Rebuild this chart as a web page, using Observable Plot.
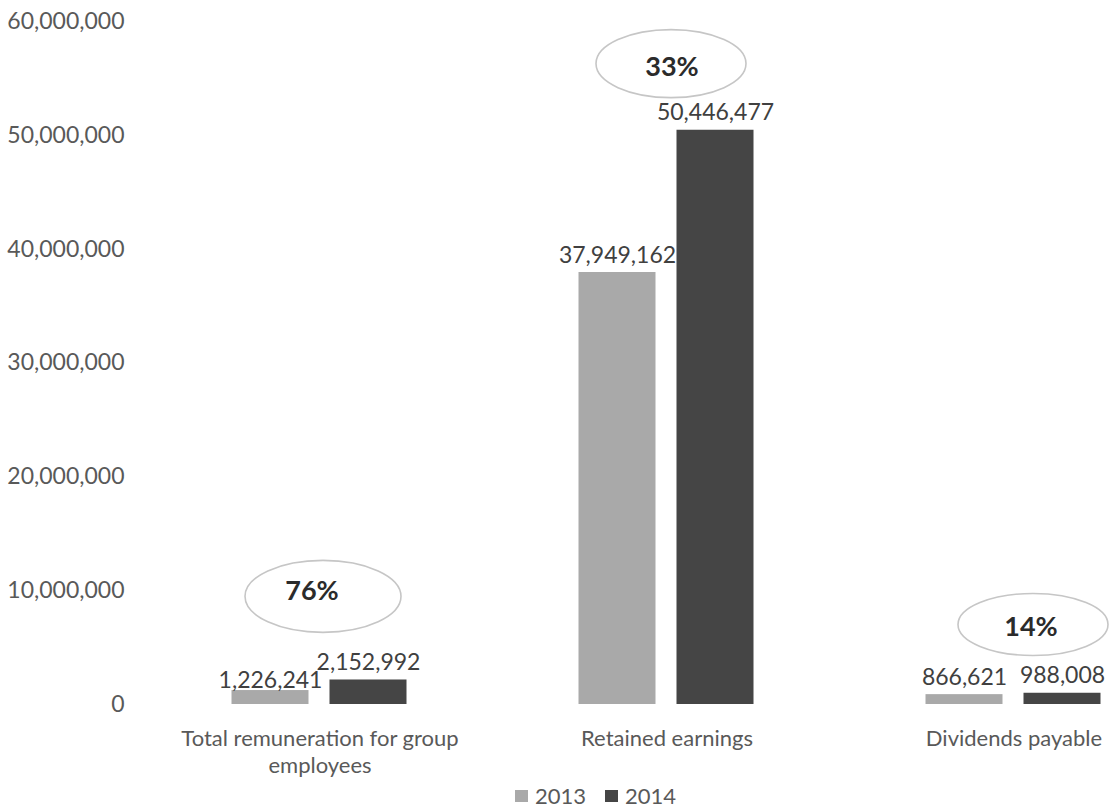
<!DOCTYPE html>
<html>
<head>
<meta charset="utf-8">
<script src="https://cdn.jsdelivr.net/npm/d3@7"></script>
<script src="https://cdn.jsdelivr.net/npm/@observablehq/plot@0.6"></script>
<style>
  html, body { margin: 0; padding: 0; background: #fff; }
  #chart svg { display: block; }
  #legend { height: 31px; font-family: Lato, sans-serif; font-size: 22px; color: #595959; display: flex; align-items: center; padding-left: 515px; box-sizing: border-box; }
  .item { display: flex; align-items: center; margin-right: 19px; }
  .sw { width: 13px; height: 12px; margin-right: 7px; }
</style>
</head>
<body>
<div id="chart"></div>
<div id="legend"></div>
<script>
const categories = ["Total remuneration for group employees", "Retained earnings", "Dividends payable"];
const categoryLabels = ["Total remuneration for group\nemployees", "Retained earnings", "Dividends payable"];
const years = ["2013", "2014"];
const values2013 = [1226241, 37949162, 866621];
const values2014 = [2152992, 50446477, 988008];
const yTicks = [0, 10000000, 20000000, 30000000, 40000000, 50000000, 60000000];
const calloutValueY = [9500000, 56300000, 7030000];

const yearColors = ["#a9a9a9", "#454545"];
const fmt = d3.format(",");

const rows = categories.flatMap((c, i) => [
  {category: c, year: years[0], value: values2013[i]},
  {category: c, year: years[1], value: values2014[i]}
]);
const callouts = categories.map((c, i) => ({
  category: c,
  y: calloutValueY[i],
  label: Math.round((values2014[i] / values2013[i] - 1) * 100) + "%"
}));
const calloutStyle = [
  {dx: 3, rx: 78, ry: 36, tdx: -11, tdy: -5},
  {dx: 4, rx: 75, ry: 34, tdx: 1, tdy: 4},
  {dx: 19, rx: 75, ry: 31, tdx: -2, tdy: 3}
];
function ellipseSymbol(ratio) {
  return {
    draw(ctx, size) {
      const ry = Math.sqrt(size / Math.PI), rx = ry * ratio, k = 0.5523;
      ctx.moveTo(rx, 0);
      ctx.bezierCurveTo(rx, ry * k, rx * k, ry, 0, ry);
      ctx.bezierCurveTo(-rx * k, ry, -rx, ry * k, -rx, 0);
      ctx.bezierCurveTo(-rx, -ry * k, -rx * k, -ry, 0, -ry);
      ctx.bezierCurveTo(rx * k, -ry, rx, -ry * k, rx, 0);
      ctx.closePath();
    }
  };
}

const calloutMarks = callouts.flatMap((c, i) => {
  const s = calloutStyle[i];
  return [
    Plot.dot([c], {fx: "category", y: "y", frameAnchor: "middle", dx: s.dx, r: s.ry,
      symbol: ellipseSymbol(s.rx / s.ry), fill: "none", stroke: "#c6c6c6", strokeWidth: 1.6}),
    Plot.text([c], {fx: "category", y: "y", frameAnchor: "middle", dx: s.dx + s.tdx, dy: s.tdy,
      text: "label", fontSize: 27, fontWeight: "bold", fill: "#2b2b2b", lineAnchor: "middle"})
  ];
});

const labelOpts = {fx: "category", x: "year", y: "value", text: d => fmt(d.value),
  lineAnchor: "bottom", fontSize: 23, fill: "#404040"};

const chart = Plot.plot({
  width: 1110,
  height: 780,
  marginTop: 21,
  marginBottom: 76,
  marginLeft: 145.5,
  marginRight: 0,
  style: {fontFamily: "Lato, sans-serif", fontSize: "23px", color: "#595959", background: "#fff"},
  fx: {domain: categories, range: [145.5, 1186.5], padding: 0, axis: null, label: null},
  x: {domain: years, range: [231, 407], paddingInner: 0.214, paddingOuter: 0, axis: null},
  y: {domain: [0, 60000000], ticks: yTicks, tickFormat: fmt, tickSize: 0, tickPadding: 22, label: null},
  color: {domain: years, range: yearColors},
  marks: [
    Plot.barY(rows, {fx: "category", x: "year", y: "value", fill: "year"}),
    Plot.text(rows.slice(1), {...labelOpts, dy: -10}),
    Plot.text(rows.slice(0, 1), {...labelOpts, dy: -3}),
    Plot.text(categories, {fx: d => d, text: (d, i) => categoryLabels[i], frameAnchor: "bottom",
      lineAnchor: "top", dy: 23, lineHeight: 1.2, fontSize: 22, fill: "#595959"}),
    ...calloutMarks
  ]
});
document.getElementById("chart").append(chart);

const legend = document.getElementById("legend");
years.forEach((y, i) => {
  const item = document.createElement("div");
  item.className = "item";
  const sw = document.createElement("span");
  sw.className = "sw";
  sw.style.background = yearColors[i];
  const t = document.createElement("span");
  t.textContent = y;
  item.append(sw, t);
  legend.append(item);
});
</script>
</body>
</html>
